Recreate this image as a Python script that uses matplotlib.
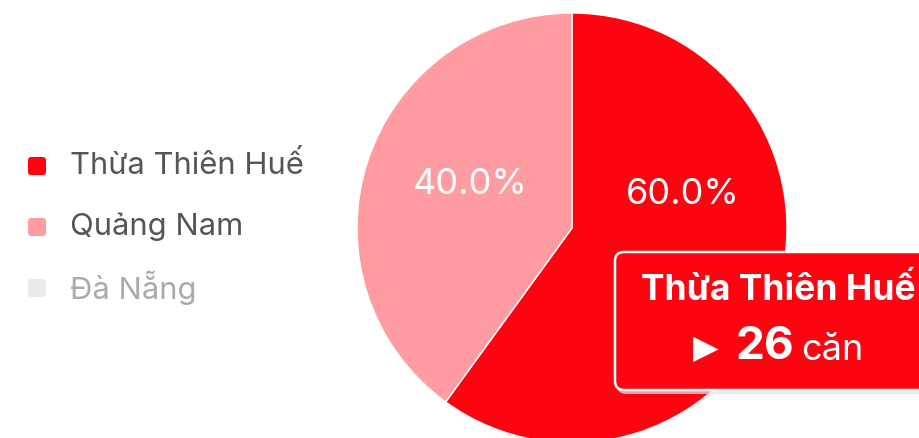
import matplotlib.pyplot as plt
from matplotlib.patches import FancyBboxPatch

plt.rcParams['font.family'] = ['Inter', 'DejaVu Sans']

# data
regions = ['Thừa Thiên Huế', 'Quảng Nam', 'Đà Nẵng']
shares = [60.0, 40.0, 0.0]
colors = ['#FE0410', '#FF9CA1', '#EBEBEB']
legend_text_colors = ['#555555', '#555555', '#AAAAAA']
tooltip_region = 'Thừa Thiên Huế'
tooltip_count = 26

W, H = 919, 438
fig = plt.figure(figsize=(W / 100, H / 100), dpi=100)
ax = fig.add_axes([0, 0, 1, 1])

# pie (skip zero slices)
vals = [v for v in shares if v > 0]
cols = [c for v, c in zip(shares, colors) if v > 0]
cx, cy, r = 572, H - 228, 215
ax.pie(vals, colors=cols, startangle=90, counterclock=False,
       center=(cx, cy), radius=r, frame=True,
       wedgeprops=dict(edgecolor='white', linewidth=1))
ax.set_xlim(0, W)
ax.set_ylim(0, H)
ax.set_aspect('equal')
ax.axis('off')

# percentage labels
ax.text(683, H - 194, f'{shares[0]:.1f}%', color='white', fontsize=26,
        ha='center', va='center')
ax.text(470, H - 184, f'{shares[1]:.1f}%', color='white', fontsize=26,
        ha='center', va='center')

# legend
for i, (name, c, tc) in enumerate(zip(regions, colors, legend_text_colors)):
    y = H - (166 + i * 61)
    ax.add_patch(FancyBboxPatch((28, y - 9), 18, 18,
                                boxstyle='round,pad=0,rounding_size=3',
                                facecolor=c, edgecolor='none'))
    ax.text(70, y, name, color=tc, fontsize=22.3, va='center', ha='left')

# tooltip
ax.add_patch(FancyBboxPatch((617, H - 394), 330, 138,
                            boxstyle='round,pad=0,rounding_size=9',
                            facecolor='#E2E2E2', edgecolor='none',
                            alpha=0.7))
ax.add_patch(FancyBboxPatch((615, H - 390), 330, 138,
                            boxstyle='round,pad=0,rounding_size=9',
                            facecolor=colors[0], edgecolor='white',
                            linewidth=1.8))
ax.text(778, H - 290, tooltip_region, color='white', fontsize=25.5,
        fontweight='bold', ha='center', va='center')
ax.text(706, H - 348, '▶', color='white', fontsize=24,
        ha='center', va='center', family='DejaVu Sans')
ax.text(735, H - 347, str(tooltip_count), color='white', fontsize=33,
        fontweight='bold', ha='left', va='center')
ax.text(801, H - 351, 'căn', color='white', fontsize=26,
        ha='left', va='center')

fig.savefig('out.png', dpi=100)
